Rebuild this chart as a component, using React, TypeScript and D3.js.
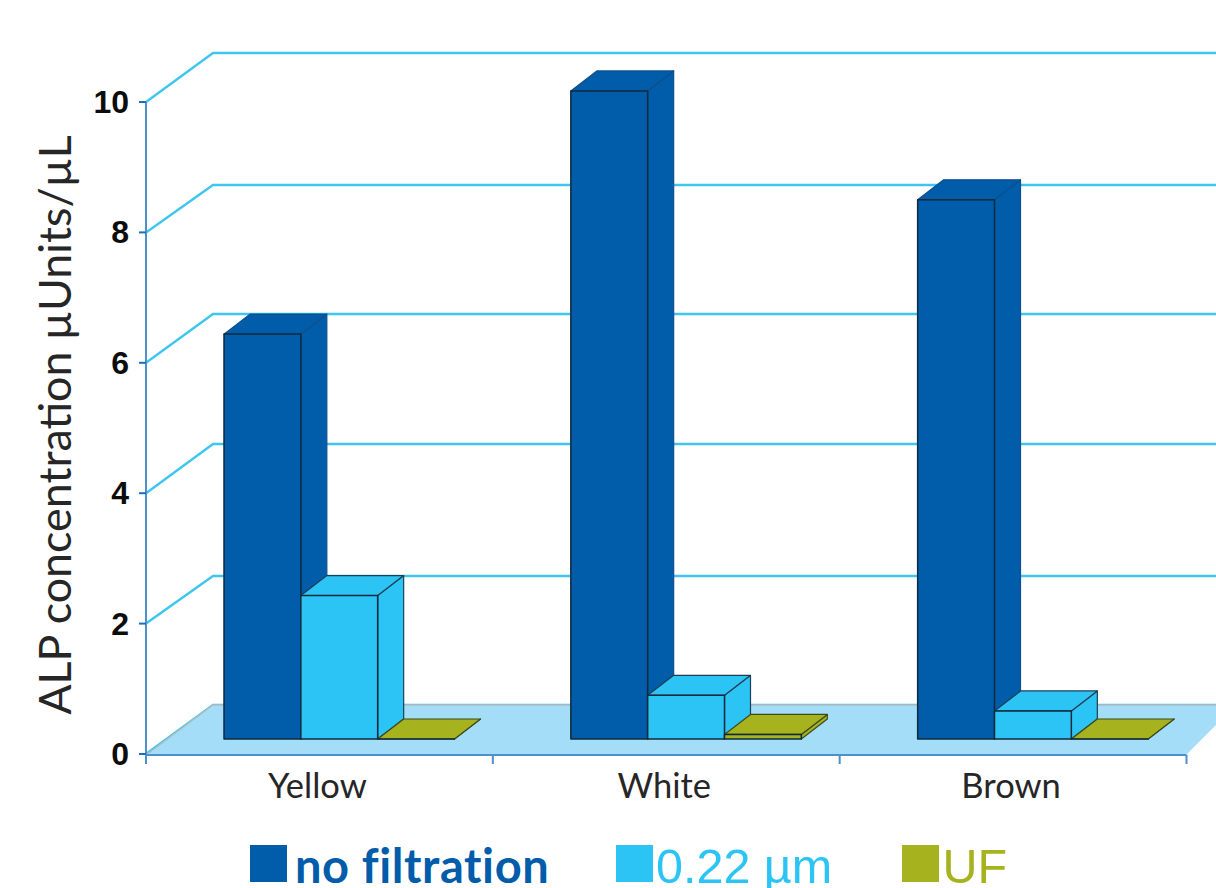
import React from "react";
import * as d3 from "d3";

const categories = ["Yellow", "White", "Brown"];
const seriesNames = ["no filtration", "0.22 µm", "UF"];
const noFiltration = [6.21, 9.94, 8.27];
const micro022 = [2.2, 0.67, 0.43];
const ultra = [0, 0.07, 0];
const seriesValues = [noFiltration, micro022, ultra];
const colors = ["#015ca9", "#2cc4f4", "#a6b31e"];
const edgeColors = ["#0d4f8e", "#1d3f55", "#3f4a1a"];
const yTicks = [0, 2, 4, 6, 8, 10];
const backY = [705, 576, 444, 314, 185, 53];

const W = 1216, H = 888;
const x = d3.scaleBand<string>().domain(categories).range([146, 1186.5]);
const y = d3.scaleLinear().domain([0, 10]).range([754, 102]);
const inner = d3.scaleBand<string>().domain(seriesNames).range([78, 308.5]);
const baseY = 739, baseShift = y(0) - baseY;
const depthX = 26, depthY = 20, wallX = 67;
const line = d3.line();

export default function App() {
  const floor0 = y(0) + 1;
  return (
    <svg width={W} height={H} viewBox={`0 0 ${W} ${H}`} style={{ position: "absolute", left: 0, top: 0, background: "#fff" }}>
      {yTicks.map((t, i) => (
        <path key={t} d={line([[146, y(t)], [146 + wallX, backY[i]], [W, backY[i]]])!} fill="none" stroke="#3fc6f0" strokeWidth={2.4} />
      ))}
      <path d={`${line([[146, floor0], [146 + wallX, backY[0]], [W + 2, backY[0]], [W + 2, floor0 - 32], [1186, floor0]])}Z`} fill="#a3ddf8" />
      <path d={line([[146, floor0], [146 + wallX, backY[0]], [W, backY[0]]])!} fill="none" stroke="#b4bcc0" strokeWidth={1.5} />
      <path d={line([[146, y(10)], [146, y(0)]])!} stroke="#4d90cc" strokeWidth={2} fill="none" />
      <path d={line([[146, floor0], [1186.5, floor0]])!} stroke="#4d90cc" strokeWidth={2} fill="none" />
      {yTicks.map(t => (
        <g key={t}>
          <path d={line([[139, y(t)], [146, y(t)]])!} stroke="#1f6fb8" strokeWidth={2} />
          <text x={129} y={y(t) + 11} textAnchor="end" fontFamily="Liberation Sans" fontWeight={700} fontSize={32} fill="#0c0c0c">{t}</text>
        </g>
      ))}
      {[...categories.map(c => x(c)!), 1186.5].map(px => (
        <path key={px} d={line([[px, floor0], [px, floor0 + 9]])!} stroke="#4d90cc" strokeWidth={2} />
      ))}
      {categories.map((c, ci) => (
        <g key={c}>
          {seriesNames.map((s, si) => {
            const l = x(c)! + inner(s)!;
            const r = l + inner.bandwidth();
            const t = y(seriesValues[si][ci]) - baseShift;
            const fill = colors[si];
            const top = `${line([[l, t], [l + depthX, t - depthY], [r + depthX, t - depthY], [r, t]])}Z`;
            const side = `${line([[r, t], [r + depthX, t - depthY], [r + depthX, baseY - depthY], [r, baseY]])}Z`;
            const front = `${line([[l, t], [r, t], [r, baseY], [l, baseY]])}Z`;
            return (
              <g key={s} strokeWidth={1.2} strokeLinejoin="round">
                <path d={side} fill={fill} stroke={edgeColors[si]} />
                <path d={top} fill={fill} stroke={edgeColors[si]} />
                <path d={front} fill={fill} stroke="#0f2a3c" strokeWidth={1.5} />
              </g>
            );
          })}
          <text x={x(c)! + x.bandwidth() / 2 - 2} y={798} textAnchor="middle" fontFamily="Lato" fontSize={34.5} fill="#262626">{c}</text>
        </g>
      ))}
      <text transform="translate(71,425) rotate(-90)" textAnchor="middle" fontFamily="Lato" fontSize={44.8} fill="#262626">ALP concentration µUnits/µL</text>
      <rect x={250} y={845} width={37} height={37} fill={colors[0]} />
      <text x={295} y={883} fontFamily="Lato" fontWeight={700} fontSize={47} letterSpacing={0.6} style={{ fontVariantLigatures: "none" }} fill={colors[0]}>{seriesNames[0]}</text>
      <rect x={616} y={845} width={37} height={37} fill={colors[1]} />
      <text x={656} y={883} fontFamily="Liberation Sans" fontSize={48.5} fill={colors[1]}>{seriesNames[1]}</text>
      <rect x={902} y={845} width={37} height={37} fill={colors[2]} />
      <text x={942.5} y={883} fontFamily="Liberation Sans" fontSize={48.5} fill={colors[2]}>{seriesNames[2]}</text>
    </svg>
  );
}
